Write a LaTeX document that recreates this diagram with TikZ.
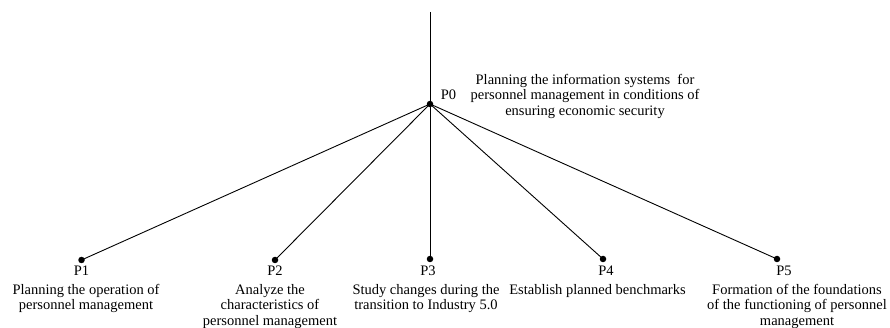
\documentclass[tikz,border=0pt]{standalone}
\usepackage{fontspec}
\setmainfont{Liberation Serif}
\begin{document}
\begin{tikzpicture}[x=1pt,y=-1pt,
  txt/.style={font=\fontsize{14.5}{15.5}\selectfont, inner sep=0pt, align=center},
  dot/.style={circle, fill=black, inner sep=0pt, minimum size=6.5pt},
  link/.style={line width=0.9pt}]
\useasboundingbox (0,0) rectangle (890,328);

% root point with its vertical stem
\coordinate (top) at (430,12);
\node[dot] (p0) at (430,104) {};

% leaf points
\node[dot] (p1) at (81.5,260) {};
\node[dot] (p2) at (275,260) {};
\node[dot] (p3) at (430,259) {};
\node[dot] (p4) at (603,259) {};
\node[dot] (p5) at (777,259) {};

% connectors
\draw[link] (top) -- (p0.center);
\foreach \n in {p1,p2,p3,p4,p5}
  \draw[link] (p0.center) -- (\n.center);

% root labels (base anchor = baseline of the last line)
\node[txt, anchor=base] (l0) at (448.5,100) {P0};
\node[txt, anchor=base] (d0) at (585,115.5)
  {Planning the information systems\ \ for\\personnel management in conditions of\\ensuring economic security};

% leaf labels
\node[txt, anchor=base] (l1) at (81.5,276) {P1};
\node[txt, anchor=base] (l2) at (275,276) {P2};
\node[txt, anchor=base] (l3) at (428,276) {P3};
\node[txt, anchor=base] (l4) at (606,276) {P4};
\node[txt, anchor=base] (l5) at (784,276) {P5};

\node[txt, anchor=base] (d1) at (86,309.5) {Planning the operation of\\personnel management};
\node[txt, anchor=base] (d2) at (270,325) {Analyze the\\characteristics of\\personnel management};
\node[txt, anchor=base] (d3) at (426,309.5) {Study changes during the\\transition to Industry 5.0};
\node[txt, anchor=base] (d4) at (597.5,294) {Establish planned benchmarks};
\node[txt, anchor=base] (d5) at (797,325) {Formation of the foundations\\of the functioning of personnel\\management};
\end{tikzpicture}
\end{document}
